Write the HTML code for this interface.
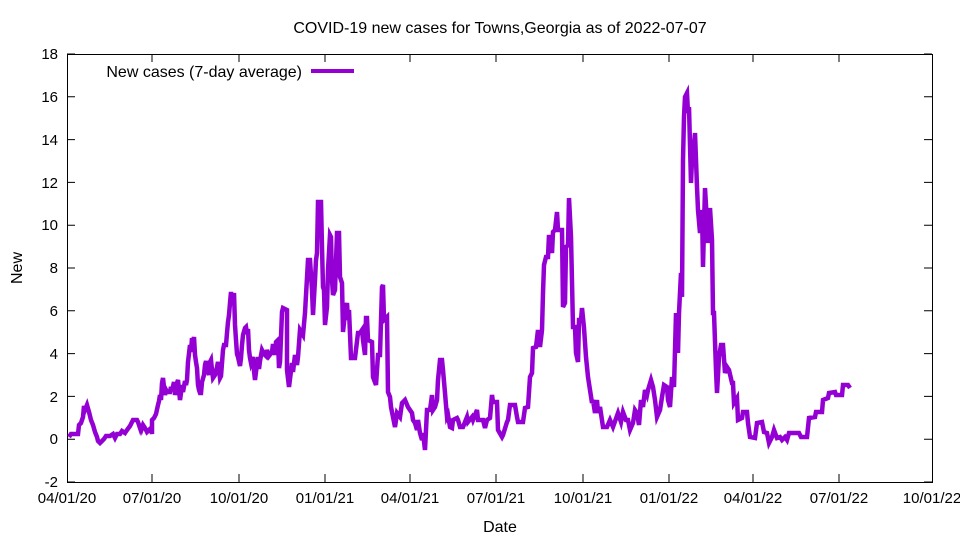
<!DOCTYPE html>
<html><head><style>body{margin:0;background:#fff}</style></head><body>
<svg width="960" height="540" xmlns="http://www.w3.org/2000/svg" font-family="Liberation Sans, sans-serif" font-size="15">
<rect width="960" height="540" fill="#fff"/>
<text x="500" y="33" text-anchor="middle" font-size="16">COVID-19 new cases for Towns,Georgia as of 2022-07-07</text>
<g stroke="#000" stroke-width="1" fill="none">
<rect x="67.5" y="54.5" width="865" height="428"/>
<path d="M67 482h8M932 482h-8M67 439.2h8M932 439.2h-8M67 396.4h8M932 396.4h-8M67 353.6h8M932 353.6h-8M67 310.8h8M932 310.8h-8M67 268h8M932 268h-8M67 225.2h8M932 225.2h-8M67 182.4h8M932 182.4h-8M67 139.6h8M932 139.6h-8M67 96.8h8M932 96.8h-8M67 54h8M932 54h-8"/>
<path d="M152 482v-8M152 54v8M239 482v-8M239 54v8M325 482v-8M325 54v8M410 482v-8M410 54v8M496 482v-8M496 54v8M583 482v-8M583 54v8M669 482v-8M669 54v8M753 482v-8M753 54v8M839 482v-8M839 54v8"/>
</g>
<g text-anchor="end">
<text x="58" y="487">-2</text><text x="58" y="444">0</text><text x="58" y="402">2</text><text x="58" y="359">4</text><text x="58" y="316">6</text><text x="58" y="273">8</text><text x="58" y="230">10</text><text x="58" y="188">12</text><text x="58" y="145">14</text><text x="58" y="102">16</text><text x="58" y="59">18</text>
</g>
<g text-anchor="middle">
<text x="67" y="503">04/01/20</text><text x="152" y="503">07/01/20</text><text x="239" y="503">10/01/20</text><text x="325" y="503">01/01/21</text><text x="410" y="503">04/01/21</text><text x="496" y="503">07/01/21</text><text x="583" y="503">10/01/21</text><text x="669" y="503">01/01/22</text><text x="753" y="503">04/01/22</text><text x="839" y="503">07/01/22</text><text x="932" y="503">10/01/22</text>
<text x="500" y="532" font-size="16">Date</text>
<text transform="translate(22,268) rotate(-90)" font-size="16">New</text>
</g>
<text x="302" y="77" text-anchor="end" font-size="16">New cases (7-day average)</text>
<path d="M311 71H354" stroke="#9400d3" stroke-width="4"/>
<polyline fill="none" stroke="#9400d3" stroke-width="4.5" stroke-linejoin="miter" points="69,437 71,434 78,434 79,425 81,423 83,417 84,406 85,410 87,405 89,412 91,420 93,425 95,432 97,437 98,441 100,443 102,441 104,439 106,436 110,436 113,434 115,438 117,434 120,434 122,431 125,433 127,430 130,426 133,420 135,420 137,420 138,422 139,425 140,428 141,424 142,428 143,425 145,428 147,432 149,430 151,428 152,434 152,420 154,418 156,414 158,405 159,401 160,395 161,400 162,383 163,378 164,387 165,395 166,390 167,392 170,392 171,387 172,391 174,382 175,395 177,383 178,380 179,390 180,400 181,393 182,385 183,392 185,381 186,385 187,380 188,362 190,345 191,352 192,338 193,344 194,337 195,355 196,362 197,368 198,385 199,390 200,393 201,393 202,382 204,375 205,365 206,361 207,368 209,375 210,362 211,360 212,370 213,378 215,375 217,367 218,362 219,369 220,378 221,376 222,363 223,350 224,345 226,345 227,333 228,322 229,315 230,303 231,292 232,300 233,305 234,293 235,325 236,340 237,354 238,357 240,366 241,358 242,345 243,335 245,328 246,327 247,334 248,329 249,350 250,358 251,363 253,357 254,371 255,380 256,372 258,357 259,369 260,361 262,350 264,354 266,356 267,350 269,356 272,352 273,344 275,355 276,342 278,340 279,368 280,362 282,312 283,308 287,310 287,370 289,387 292,363 293,372 295,355 297,365 298,357 300,330 303,335 305,313 308,260 310,260 312,290 313,315 315,280 316,260 317,253 318,202 321,202 322,247 323,287 324,290 325,325 327,307 328,270 330,235 331,237 332,280 333,295 335,290 337,233 339,233 340,277 342,283 343,332 345,313 347,303 348,320 349,310 351,358 355,358 358,333 360,333 362,330 363,340 365,355 366,318 367,318 368,340 372,342 373,377 376,385 378,355 380,355 382,287 383,285 384,320 387,317 388,392 390,397 391,407 393,417 395,427 397,413 400,417 402,403 405,400 408,407 412,413 413,420 415,423 417,430 418,420 420,433 422,440 423,433 425,450 427,410 430,410 432,395 433,410 435,407 437,400 438,380 440,360 442,360 443,370 445,393 447,417 448,415 450,427 452,428 453,420 457,418 458,420 460,427 463,427 467,417 468,422 472,417 473,420 477,410 478,420 483,420 485,428 487,420 490,418 492,395 493,402 497,402 498,430 502,437 503,435 507,422 508,420 510,405 513,405 515,405 517,417 518,422 523,422 525,408 528,407 530,377 532,373 533,348 536,347 538,330 540,347 542,330 543,293 544,265 546,257 548,257 549,235 552,253 553,232 555,230 557,212 558,230 562,230 563,307 565,303 566,247 568,245 569,198 571,237 573,327 575,327 576,353 578,362 579,320 581,320 582,308 584,328 586,357 588,377 592,403 593,400 595,413 597,400 598,413 600,407 603,427 607,427 610,420 613,427 618,413 621,422 623,412 626,420 628,420 630,430 633,423 635,410 637,413 639,425 641,400 643,407 645,390 647,395 648,390 651,380 653,387 655,400 657,417 660,410 662,397 664,385 667,387 668,400 670,407 672,377 674,387 676,313 678,353 679,313 681,273 682,297 683,160 684,117 685,97 687,93 688,113 689,107 691,183 692,160 693,157 695,133 697,187 698,210 700,233 702,210 703,267 705,188 707,223 708,243 710,208 712,240 713,313 714,313 716,370 717,393 719,357 721,345 723,345 725,373 727,367 729,370 732,383 733,383 734,403 737,398 738,420 742,418 743,412 747,412 748,423 750,437 755,438 757,423 762,422 764,432 767,433 769,443 772,437 774,430 777,438 780,437 782,440 785,437 787,440 789,433 799,433 801,437 807,437 809,418 815,417 816,412 822,412 823,400 828,398 829,393 835,392 836,395 842,395 843,385 848,385 850,388"/>
</svg>
</body></html>
